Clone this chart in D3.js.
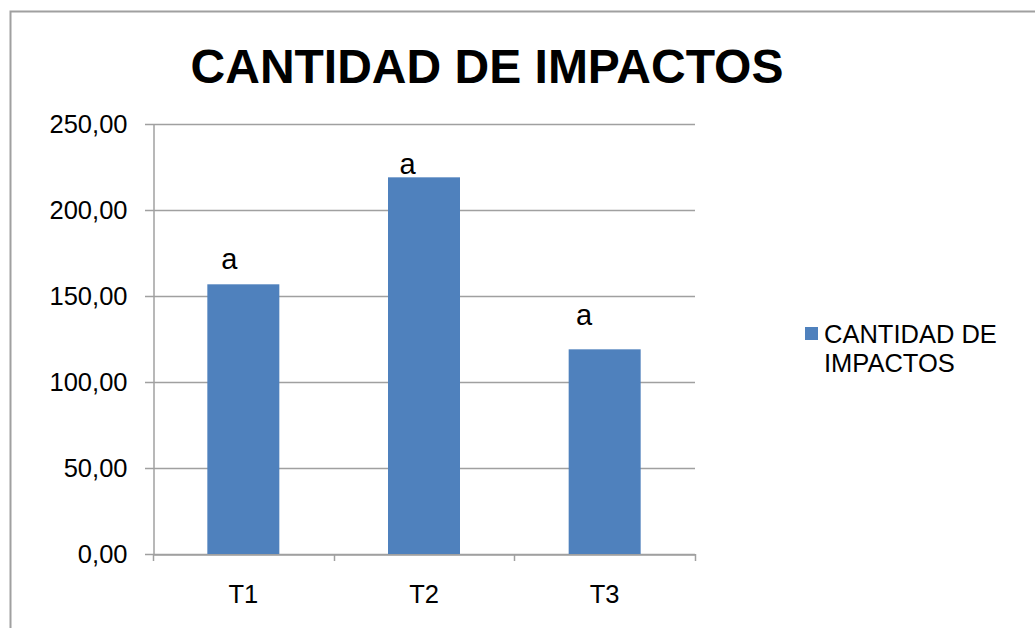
<!DOCTYPE html>
<html><head><meta charset="utf-8">
<script src="https://cdn.jsdelivr.net/npm/d3@7/dist/d3.min.js"></script>
<style>body{margin:0;background:#fff}svg{display:block;font-family:"Liberation Sans",Arial,sans-serif}</style>
</head><body><svg id="c" width="1035" height="628"></svg>
<script>
const title = "CANTIDAD DE IMPACTOS";
const categories = ["T1", "T2", "T3"];
const values = [156.8, 219.0, 119.0];
const letters = ["a", "a", "a"];
const seriesName = ["CANTIDAD DE", "IMPACTOS"];
const yTicks = [0, 50, 100, 150, 200, 250];

const svg = d3.select("#c");
const m = {left:153, right:695, top:124, bottom:554};
const fmt = v => d3.format(".2f")(v).replace(".", ",");
const grid = "#a0a0a0";

svg.append("rect").attr("x",10.5).attr("y",11.5).attr("width",1040).attr("height",640)
  .attr("fill","#fff").attr("stroke","#a0a0a0").attr("stroke-width",2);

const x = d3.scaleBand().domain(categories).range([m.left, m.right]).paddingInner(0).paddingOuter(0);
const y = d3.scaleLinear().domain([0,250]).range([m.bottom, m.top]);

// gridlines
svg.append("g").selectAll("line").data(yTicks).join("line")
  .attr("x1",m.left-8).attr("x2",m.right)
  .attr("y1",d=>Math.round(y(d))+0.5).attr("y2",d=>Math.round(y(d))+0.5)
  .attr("stroke",grid).attr("stroke-width",1.5);

// y axis
const ya = svg.append("g").attr("transform",`translate(${m.left+0.5},0)`)
  .call(d3.axisLeft(y).tickValues(yTicks).tickFormat(fmt).tickSize(0).tickPadding(26));
ya.select(".domain").attr("stroke",grid).attr("stroke-width",1.5);
ya.selectAll("text").attr("font-size","25.5px").attr("fill","#000").attr("font-family","Liberation Sans, Arial, sans-serif");

// x axis
const xa = svg.append("g").attr("transform",`translate(0,${m.bottom+0.5})`)
  .call(d3.axisBottom(x).tickSize(0).tickPadding(30));
xa.select(".domain").attr("stroke",grid).attr("stroke-width",1.5);
xa.selectAll("text").attr("font-size","25.5px").attr("fill","#000").attr("font-family","Liberation Sans, Arial, sans-serif");
const bounds = [m.left, ...categories.map(c=>x(c)+x.bandwidth())];
svg.append("g").selectAll("line").data(bounds).join("line")
  .attr("x1",d=>Math.round(d)+0.5).attr("x2",d=>Math.round(d)+0.5)
  .attr("y1",m.bottom).attr("y2",m.bottom+7)
  .attr("stroke",grid).attr("stroke-width",1.5);

// bars
const bw = 72;
svg.append("g").selectAll("rect").data(values).join("rect")
  .attr("x",(d,i)=>x(categories[i])+x.bandwidth()/2-bw/2)
  .attr("y",d=>y(d)).attr("width",bw).attr("height",d=>y(0)-y(d))
  .attr("fill","#4f81bd");

// letters (manually placed text boxes in original)
const lblShift = [[-14,-15],[-16.5,-3],[-20.5,-24]];
svg.append("g").selectAll("text").data(values).join("text")
  .attr("x",(d,i)=>x(categories[i])+x.bandwidth()/2+lblShift[i][0])
  .attr("y",(d,i)=>y(d)+lblShift[i][1])
  .attr("text-anchor","middle").attr("font-size","29px").text((d,i)=>letters[i]);

// title
svg.append("text").attr("x",487).attr("y",83).attr("text-anchor","middle")
  .attr("font-size","48px").attr("font-weight","bold").text(title);

// legend
svg.append("rect").attr("x",805).attr("y",327).attr("width",13).attr("height",13).attr("fill","#4f81bd");
svg.append("text").attr("font-size","25.5px").selectAll("tspan").data(seriesName).join("tspan")
  .attr("x",824).attr("y",(d,i)=>343+i*29).text(d=>d);
</script></body></html>
